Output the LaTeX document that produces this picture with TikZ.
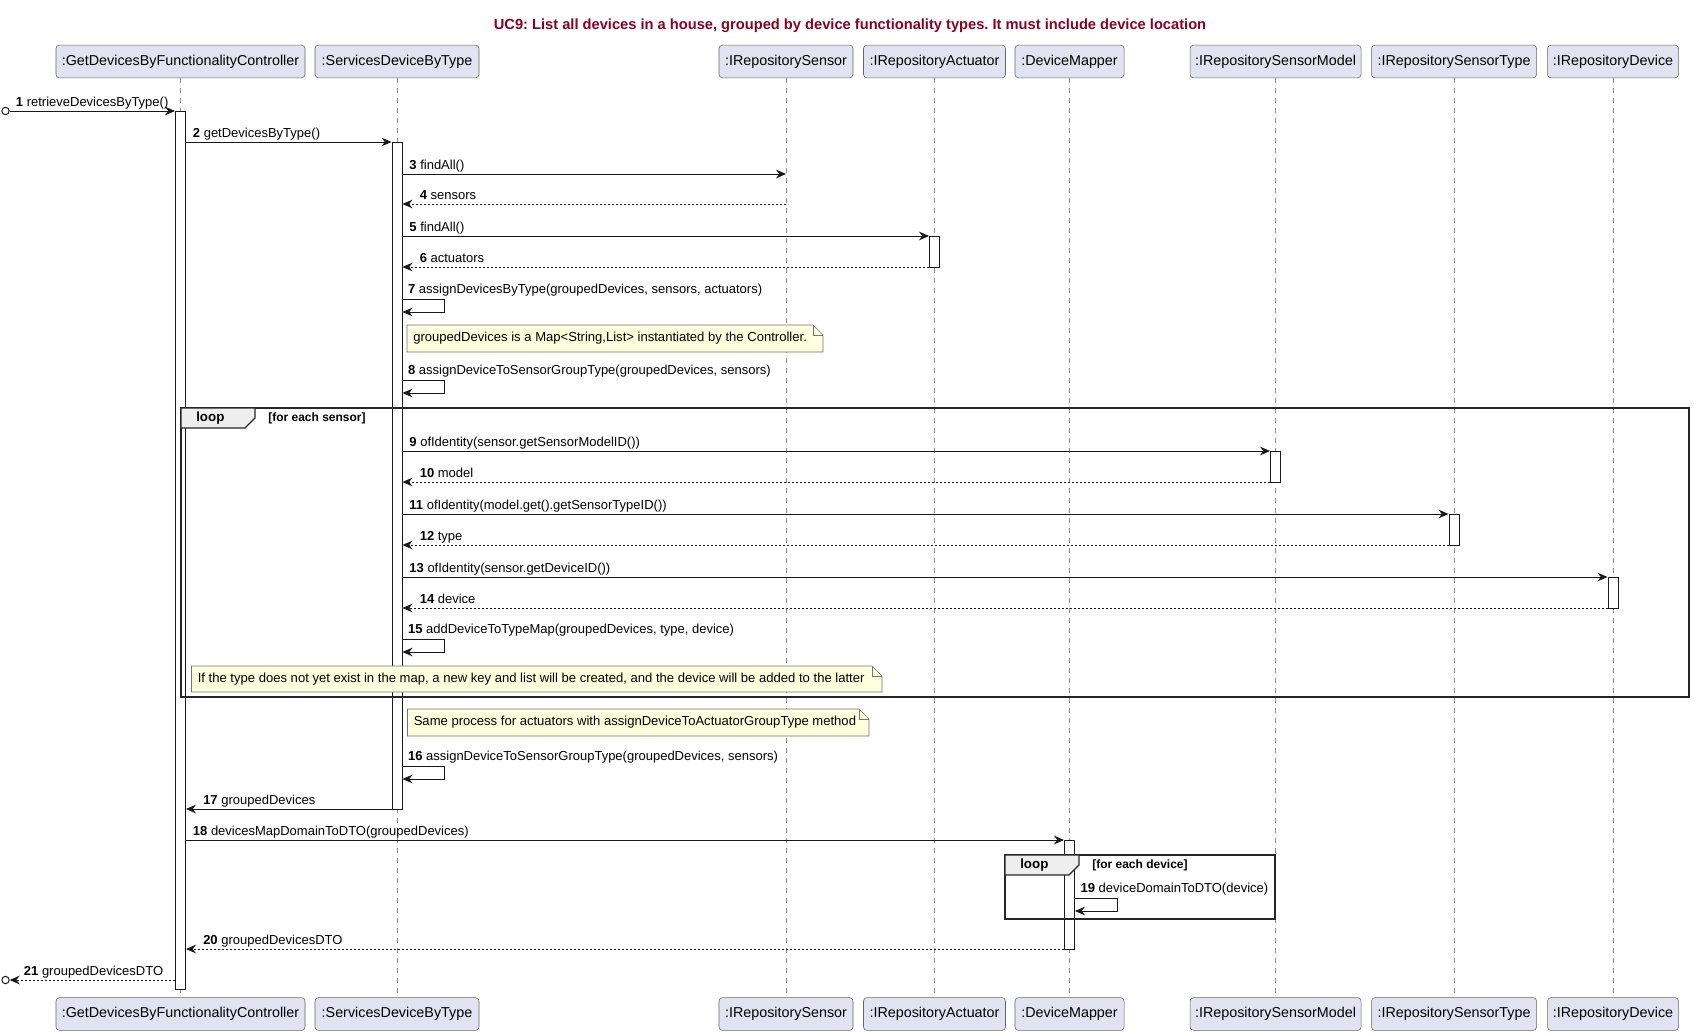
\documentclass[tikz,border=0pt]{standalone}
\usepackage{fontspec}
\setmainfont{Liberation Sans}
\usetikzlibrary{arrows.meta,fit}
\frenchspacing
\definecolor{partfill}{HTML}{E2E2F0}
\definecolor{partline}{HTML}{181818}
\definecolor{notefill}{HTML}{FEFFDD}
\definecolor{tabfill}{HTML}{EEEEEE}
\definecolor{titlered}{HTML}{880022}
\tikzstyle{participant}=[draw=black!60,fill=partfill,rounded corners=2.5pt,inner sep=0pt,minimum height=24.5pt,font=\fontsize{10.75pt}{12pt}\selectfont]
\tikzstyle{lifeline}=[draw=black!45,line width=0.5pt,dash pattern=on 3.75pt off 3.75pt]
\tikzstyle{actbar}=[draw=partline,fill=white,inner sep=0pt,line width=0.75pt]
\tikzstyle{call}=[draw=partline,line width=0.75pt,-{Stealth[length=7.5pt,width=6.5pt,inset=2.5pt]}]
\tikzstyle{ret}=[call,dash pattern=on 1.5pt off 1.5pt]
\tikzstyle{lbl}=[anchor=base west,inner sep=0pt,font=\fontsize{9.75pt}{11pt}\selectfont]
\tikzstyle{notebox}=[draw=black!55,fill=notefill,line width=0.5pt]
\tikzstyle{notetext}=[anchor=west,inner sep=0pt,font=\fontsize{9.8pt}{11pt}\selectfont]
\tikzstyle{frame}=[draw=black!85,line width=1.5pt]
\tikzstyle{tab}=[draw=black!85,fill=tabfill,line width=1pt]
\tikzstyle{extpoint}=[circle,draw=partline,fill=white,line width=0.75pt,inner sep=0pt,minimum size=5.5pt]

\begin{document}
\begin{tikzpicture}[x=0.75pt,y=-0.75pt]
\useasboundingbox (0,0) rectangle (1694,1035);
\node[font=\bfseries\fontsize{11pt}{13pt}\selectfont,text=titlered] (title) at (850,26)
  {UC9: List all devices in a house, grouped by device functionality types. It must include device location};

% participants and lifelines
\foreach \n/\x/\w/\t in {ctrl/180.5/249/{:GetDevicesByFunctionalityController},
    srv/397/164/{:ServicesDeviceByType}, sen/786/134/{:IRepositorySensor},
    act/934.5/142/{:IRepositoryActuator}, map/1069.5/109/{:DeviceMapper},
    mod/1275.5/171/{:IRepositorySensorModel}, typ/1454/165/{:IRepositorySensorType},
    dev/1613/131/{:IRepositoryDevice}}{
  \node[participant,minimum width=\w*0.75pt] (\n-top) at (\x,61.5) {\t};
  \node[participant,minimum width=\w*0.75pt] (\n-bot) at (\x,1014) {\t};
  \draw[lifeline] (\n-top) -- (\n-bot);
}

% activations
\node[actbar,fit={(175.5,111)(185.5,989)}] (ctrl-bar) {};
\node[actbar,fit={(392,142)(402,809)}] (srv-bar) {};
\node[actbar,fit={(929.5,236)(939.5,267)}] (act-bar) {};
\node[actbar,fit={(1270.5,451)(1280.5,482)}] (mod-bar) {};
\node[actbar,fit={(1449,514)(1459,545)}] (typ-bar) {};
\node[actbar,fit={(1608,577)(1618,608)}] (dev-bar) {};
\node[actbar,fit={(1064.5,840)(1074.5,949)}] (map-bar) {};

% found and lost messages
\node[extpoint] (ext-in) at (5.5,111) {};
\node[extpoint] (ext-out) at (5.5,980) {};
\draw[call] (ext-in) -- (ctrl-bar.west |- ext-in);
\node[lbl] (m1) at ([xshift=4.5pt,yshift=3.75pt]ext-in.east) {\textbf{1} retrieveDevicesByType()};
\draw[ret] (ctrl-bar.west |- ext-out) -- (ext-out);
\node[lbl] (m21) at ([xshift=10.5pt,yshift=3.75pt]ext-out.east) {\textbf{21} groupedDevicesDTO};

% calls
\foreach \a/\b/\y/\n/\t in {ctrl-bar.east/srv-bar.west/142/2/{getDevicesByType()},
    srv-bar.east/sen-top/174/3/{findAll()}, srv-bar.east/act-bar.west/236/5/{findAll()},
    srv-bar.east/mod-bar.west/451/9/{ofIdentity(sensor.getSensorModelID())},
    srv-bar.east/typ-bar.west/514/11/{ofIdentity(model.get().getSensorTypeID())},
    srv-bar.east/dev-bar.west/577/13/{ofIdentity(sensor.getDeviceID())},
    ctrl-bar.east/map-bar.west/840/18/{devicesMapDomainToDTO(groupedDevices)}}{
  \draw[call] (\a |- 0,\y) -- (\b |- 0,\y);
  \node[lbl] (m\n) at ([xshift=5pt,yshift=3.75pt]\a |- 0,\y) {\textbf{\n} \t};
}

% replies
\foreach \a/\b/\y/\n/\t/\s in {sen-top/srv-bar.east/204/4/sensors/ret,
    act-bar.west/srv-bar.east/267/6/actuators/ret, mod-bar.west/srv-bar.east/482/10/model/ret,
    typ-bar.west/srv-bar.east/545/12/type/ret, dev-bar.west/srv-bar.east/608/14/device/ret,
    srv-bar.west/ctrl-bar.east/809/17/groupedDevices/call,
    map-bar.west/ctrl-bar.east/949/20/groupedDevicesDTO/ret}{
  \draw[\s] (\a |- 0,\y) -- (\b |- 0,\y);
  \node[lbl] (m\n) at ([xshift=12.75pt,yshift=3.75pt]\b |- 0,\y) {\textbf{\n} \t};
}

% self messages
\foreach \a/\y/\n/\t in {srv-bar.east/299/7/{assignDevicesByType(groupedDevices, sensors, actuators)},
    srv-bar.east/380/8/{assignDeviceToSensorGroupType(groupedDevices, sensors)},
    srv-bar.east/639/15/{addDeviceToTypeMap(groupedDevices, type, device)},
    srv-bar.east/766/16/{assignDeviceToSensorGroupType(groupedDevices, sensors)},
    map-bar.east/898/19/{deviceDomainToDTO(device)}}{
  \draw[call] (\a |- 0,\y) -- ++(42,0) -- ++(0,13) -- (\a |- 0,\y+13);
  \node[lbl] (m\n) at ([xshift=4pt,yshift=4.5pt]\a |- 0,\y) {\textbf{\n} \t};
}

% loops
\draw[frame] (181,408) rectangle (1689,697);
\draw[tab] (181,408) -- (255,408) -- (255,418) -- (245,428) -- (181,428) -- cycle;
\node[lbl,anchor=west,font=\bfseries\fontsize{10pt}{11pt}\selectfont] (loop1) at (196,418) {loop};
\node[lbl,anchor=west,font=\bfseries\fontsize{9pt}{10pt}\selectfont] (guard1) at (268,418) {[for each sensor]};
\draw[frame] (1005,855) rectangle (1275,919);
\draw[tab] (1005,855) -- (1079,855) -- (1079,865) -- (1069,875) -- (1005,875) -- cycle;
\node[lbl,anchor=west,font=\bfseries\fontsize{10pt}{11pt}\selectfont] (loop2) at (1020,865) {loop};
\node[lbl,anchor=west,font=\bfseries\fontsize{9pt}{10pt}\selectfont] (guard2) at (1092,865) {[for each device]};

% notes
\foreach \n/\xa/\ya/\xb/\yb/\t in {note1/407/325/823/352/{groupedDevices is a Map<String,List> instantiated by the Controller.},
    note2/191.5/666/882/692/{If the type does not yet exist in the map, a new key and list will be created, and the device will be added to the latter},
    note3/407.5/709/869/736/{Same process for actuators with assignDeviceToActuatorGroupType method}}{
  \path[notebox] (\xa,\ya) -- (\xb-10,\ya) -- (\xb,\ya+10) -- (\xb,\yb) -- (\xa,\yb) -- cycle;
  \draw[notebox,fill=none] (\xb-10,\ya) -- (\xb-10,\ya+10) -- (\xb,\ya+10);
  \node[notetext] (\n) at (\xa+6,{(\ya+\yb)/2}) {\t};
}
\end{tikzpicture}
\end{document}
